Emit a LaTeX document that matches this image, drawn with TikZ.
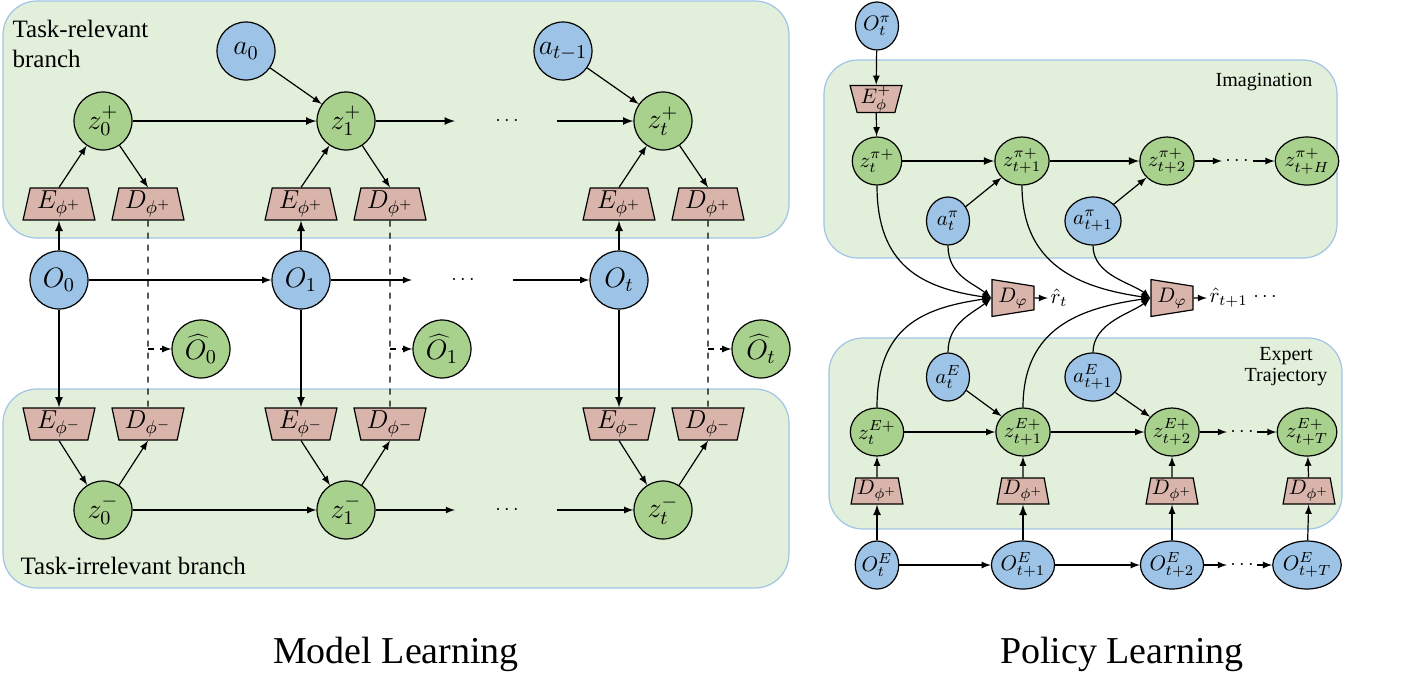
\documentclass[tikz,border=0pt]{standalone}
\usepackage{fix-cm}
\usepackage{fontspec}
\setmainfont{Liberation Serif}
\usepackage{tikz}
\usetikzlibrary{arrows,shapes.geometric}

\definecolor{boxgreen}{RGB}{226,239,218}
\definecolor{boxline}{RGB}{160,196,230}
\definecolor{nodeblue}{RGB}{157,195,230}
\definecolor{nodegreen}{RGB}{169,209,142}
\definecolor{nodepink}{RGB}{216,180,170}

\begin{document}
\begin{tikzpicture}[x=0.5pt,y=-0.5pt,line width=0.6pt,
		bnode/.style={circle,draw,fill=nodeblue,minimum size=29pt,inner sep=0pt,font=\fontsize{14}{16}\selectfont},
		gnode/.style={bnode,fill=nodegreen},
		bsmall/.style={ellipse,draw,fill=nodeblue,minimum width=21.5pt,minimum height=24pt,inner sep=0pt,font=\fontsize{10.5}{12}\selectfont},
		gsmall/.style={bsmall,fill=nodegreen},
		encup/.style={trapezium,trapezium stretches=true,draw,fill=nodepink,trapezium left angle=78,trapezium right angle=78,minimum width=36pt,minimum height=16pt,inner sep=0pt,font=\fontsize{13}{15}\selectfont},
		encdown/.style={encup,shape border rotate=180},
		smallup/.style={encup,minimum width=26pt,minimum height=13pt,font=\fontsize{10.5}{12}\selectfont},
		smalldown/.style={smallup,shape border rotate=180},
		rewdec/.style={encup,shape border rotate=270,trapezium left angle=79,trapezium right angle=79,minimum width=18.5pt,minimum height=21pt,font=\fontsize{10.5}{12}\selectfont},
		dots/.style={inner sep=0pt,font=\fontsize{10}{12}\selectfont}]
		\useasboundingbox (0,0) rectangle (1424,681);
%		\draw[help lines,step=50] (0,0) grid (1424,681);
		% branch boxes
		\draw[boxline,fill=boxgreen,rounded corners=17pt] (3,1) rectangle (789,238);
		\draw[boxline,fill=boxgreen,rounded corners=17pt] (3,389) rectangle (789,588);
		\draw[boxline,fill=boxgreen,rounded corners=17pt] (824,60) rectangle (1337,258);
		\draw[boxline,fill=boxgreen,rounded corners=17pt] (829,338) rectangle (1342,529);

		\path (12,20) node(rel_label) [anchor=north west,inner sep=0pt,align=left,font=\fontsize{12.5}{15}\selectfont] {Task-relevant\\branch};
		\path (20,566) node(irr_label) [anchor=west,inner sep=0pt,font=\fontsize{12.5}{15}\selectfont] {Task-irrelevant branch};
		\path (1264,82) node(imag_label) [font=\fontsize{10}{12}\selectfont] {Imagination};
		\path (1286,367) node(exp_label) [align=center,font=\fontsize{10}{10.5}\selectfont] {Expert\\Trajectory};
		\path (396,663) node(model_title) [anchor=base,font=\fontsize{19}{22}\selectfont] {Model Learning};
		\path (1122,663) node(policy_title) [anchor=base,font=\fontsize{19}{22}\selectfont] {Policy Learning};

		% model learning
		\path (246,51) node(a0) [bnode] {$a_0$};
		\path (563,51) node(at1) [bnode] {$a_{t-1}$};
		\path (103,121) node(zp0) [gnode] {$z_0^+$};
		\path (346,121) node(zp1) [gnode] {$z_1^+$};
		\path (663,121) node(zpt) [gnode] {$z_t^+$};
		\path (59,204) node(Ep0) [encup] {$E_{\phi^+}$};
		\path (148,204) node(Dp0) [encup] {$D_{\phi^+}$};
		\path (301,204) node(Ep1) [encup] {$E_{\phi^+}$};
		\path (390,204) node(Dp1) [encup] {$D_{\phi^+}$};
		\path (619,204) node(Ept) [encup] {$E_{\phi^+}$};
		\path (708,204) node(Dpt) [encup] {$D_{\phi^+}$};
		\path (59,280) node(o0) [bnode] {$O_0$};
		\path (301,280) node(o1) [bnode] {$O_1$};
		\path (619,280) node(ot) [bnode] {$O_t$};
		\path (201,349) node(oh0) [gnode] {$\widehat{O}_0$};
		\path (442,349) node(oh1) [gnode] {$\widehat{O}_1$};
		\path (761,349) node(oht) [gnode] {$\widehat{O}_t$};
		\path (59,424) node(Em0) [encdown] {$E_{\phi^-}$};
		\path (148,424) node(Dm0) [encdown] {$D_{\phi^-}$};
		\path (301,424) node(Em1) [encdown] {$E_{\phi^-}$};
		\path (390,424) node(Dm1) [encdown] {$D_{\phi^-}$};
		\path (619,424) node(Emt) [encdown] {$E_{\phi^-}$};
		\path (708,424) node(Dmt) [encdown] {$D_{\phi^-}$};
		\path (103,510) node(zm0) [gnode] {$z_0^-$};
		\path (346,510) node(zm1) [gnode] {$z_1^-$};
		\path (663,510) node(zmt) [gnode] {$z_t^-$};
		\path (455,121) coordinate (top_end);
		\path (507,121) node(top_dots) [dots] {$\cdots$};
		\path (557,121) coordinate (top_start);
		\path (412,280) coordinate (mid_end);
		\path (463,280) node(mid_dots) [dots] {$\cdots$};
		\path (513,280) coordinate (mid_start);
		\path (455,510) coordinate (bot_end);
		\path (507,510) node(bot_dots) [dots] {$\cdots$};
		\path (557,510) coordinate (bot_start);
		\path (148,349) coordinate (dj0);
		\path (390,349) coordinate (dj1);
		\path (708,349) coordinate (djt);

		\draw[thick,-latex] (zp0) -- (zp1);
		\draw[thick,-latex] (zp1) -- (top_end);
		\draw[thick,-latex] (top_start) -- (zpt);
		\draw[-latex] (a0) -- (zp1);
		\draw[-latex] (at1) -- (zpt);
		\draw[-latex] (Ep0.north) -- (zp0);
		\draw[-latex] (Ep1.north) -- (zp1);
		\draw[-latex] (Ept.north) -- (zpt);
		\draw[-latex] (zp0) -- (Dp0.north);
		\draw[-latex] (zp1) -- (Dp1.north);
		\draw[-latex] (zpt) -- (Dpt.north);
		\draw[thick,-latex] (o0) -- (Ep0);
		\draw[thick,-latex] (o1) -- (Ep1);
		\draw[thick,-latex] (ot) -- (Ept);
		\draw[-latex] (o0) -- (o1);
		\draw[-latex] (o1) -- (mid_end);
		\draw[-latex] (mid_start) -- (ot);
		\draw[thick,-latex] (o0) -- (Em0);
		\draw[thick,-latex] (o1) -- (Em1);
		\draw[thick,-latex] (ot) -- (Emt);
		\draw[-latex] (Em0.south) -- (zm0);
		\draw[-latex] (Em1.south) -- (zm1);
		\draw[-latex] (Emt.south) -- (zmt);
		\draw[-latex] (zm0) -- (Dm0.south);
		\draw[-latex] (zm1) -- (Dm1.south);
		\draw[-latex] (zmt) -- (Dmt.south);
		\draw[-latex] (zm0) -- (zm1);
		\draw[-latex] (zm1) -- (bot_end);
		\draw[-latex] (bot_start) -- (zmt);
		\draw[dashed] (Dp0.south) -- (Dm0.north);
		\draw[dashed] (Dp1.south) -- (Dm1.north);
		\draw[dashed] (Dpt.south) -- (Dmt.north);
		\draw[dashed,-latex] (dj0) -- (oh0);
		\draw[dashed,-latex] (dj1) -- (oh1);
		\draw[dashed,-latex] (djt) -- (oht);

		% policy learning
		\path (877,26) node(opi) [bsmall] {$O_t^\pi$};
		\path (876,99) node(Epi) [smalldown] {$E_\phi^+$};
		\path (877,161) node(zpi0) [gsmall] {$z_t^{\pi+}$};
		\path (1022,161) node(zpi1) [gsmall] {$z_{t+1}^{\pi+}$};
		\path (1167,161) node(zpi2) [gsmall] {$z_{t+2}^{\pi+}$};
		\path (1307,161) node(zpiH) [gsmall] {$z_{t+H}^{\pi+}$};
		\path (948,221) node(api0) [bsmall] {$a_t^\pi$};
		\path (1093,221) node(api1) [bsmall] {$a_{t+1}^\pi$};
		\path (1013,298) node(Dr0) [rewdec] {$D_\varphi$};
		\path (1172,298) node(Dr1) [rewdec] {$D_\varphi$};
		\path (1048,298) node(r0) [anchor=west,inner sep=1pt,font=\fontsize{10.5}{12}\selectfont] {$\hat{r}_t$};
		\path (1207,298) node(r1) [anchor=west,inner sep=1pt,font=\fontsize{10.5}{12}\selectfont] {$\hat{r}_{t+1}$};
		\path (1265,297) node(r_dots) [dots] {$\cdots$};
		\path (948,377) node(aE0) [bsmall] {$a_t^E$};
		\path (1093,377) node(aE1) [bsmall] {$a_{t+1}^E$};
		\path (877,432) node(zE0) [gsmall] {$z_t^{E+}$};
		\path (1023,432) node(zE1) [gsmall] {$z_{t+1}^{E+}$};
		\path (1172,432) node(zE2) [gsmall] {$z_{t+2}^{E+}$};
		\path (1307,432) node(zET) [gsmall] {$z_{t+T}^{E+}$};
		\path (877,491) node(DE0) [smallup] {$D_{\phi^+}$};
		\path (1023,491) node(DE1) [smallup] {$D_{\phi^+}$};
		\path (1172,491) node(DE2) [smallup] {$D_{\phi^+}$};
		\path (1309,491) node(DET) [smallup] {$D_{\phi^+}$};
		\path (877,565) node(oE0) [bsmall] {$O_t^E$};
		\path (1023,565) node(oE1) [bsmall] {$O_{t+1}^E$};
		\path (1172,565) node(oE2) [bsmall] {$O_{t+2}^E$};
		\path (1307,565) node(oET) [bsmall] {$O_{t+T}^E$};
		\path (1222,161) coordinate (imag_end);
		\path (1237,161) node(imag_dots) [dots] {$\cdots$};
		\path (1253,161) coordinate (imag_start);
		\path (1227,432) coordinate (zE_end);
		\path (1242,432) node(zE_dots) [dots] {$\cdots$};
		\path (1257,432) coordinate (zE_start);
		\path (1227,565) coordinate (oE_end);
		\path (1242,565) node(oE_dots) [dots] {$\cdots$};
		\path (1257,565) coordinate (oE_start);

		\draw[-latex] (opi) -- (Epi);
		\draw[-latex] (Epi) -- (zpi0);
		\draw[thick,-latex] (zpi0) -- (zpi1);
		\draw[thick,-latex] (zpi1) -- (zpi2);
		\draw[-latex] (zpi2) -- (imag_end);
		\draw[-latex] (imag_start) -- (zpiH);
		\draw[-latex] (api0) -- (zpi1);
		\draw[-latex] (api1) -- (zpi2);
		\draw[-latex] (Dr0) -- (r0);
		\draw[-latex] (Dr1) -- (r1);
		\draw[-latex] (zpi0.south) .. controls +(0,80) and +(-70,-10) .. (Dr0.west);
		\draw[-latex] (api0.south) .. controls +(0,30) and +(-18,-15) .. (Dr0.west);
		\draw[-latex] (zE0.north) .. controls +(0,-80) and +(-70,10) .. (Dr0.west);
		\draw[-latex] (aE0.north) .. controls +(0,-30) and +(-18,15) .. (Dr0.west);
		\draw[-latex] (zpi1.south) .. controls +(0,80) and +(-70,-10) .. (Dr1.west);
		\draw[-latex] (api1.south) .. controls +(0,30) and +(-18,-15) .. (Dr1.west);
		\draw[-latex] (zE1.north) .. controls +(0,-80) and +(-70,10) .. (Dr1.west);
		\draw[-latex] (aE1.north) .. controls +(0,-30) and +(-18,15) .. (Dr1.west);
		\draw[-latex] (zE0) -- (zE1);
		\draw[-latex] (zE1) -- (zE2);
		\draw[-latex] (zE2) -- (zE_end);
		\draw[-latex] (zE_start) -- (zET);
		\draw[-latex] (aE0) -- (zE1);
		\draw[-latex] (aE1) -- (zE2);
		\draw[-latex] (DE0) -- (zE0);
		\draw[-latex] (DE1) -- (zE1);
		\draw[-latex] (DE2) -- (zE2);
		\draw[-latex] (DET) -- (zET);
		\draw[thick,-latex] (oE0) -- (DE0);
		\draw[thick,-latex] (oE1) -- (DE1);
		\draw[-latex] (oE2) -- (DE2);
		\draw[-latex] (oET) -- (DET);
		\draw[-latex] (oE0) -- (oE1);
		\draw[-latex] (oE1) -- (oE2);
		\draw[-latex] (oE2) -- (oE_end);
		\draw[-latex] (oE_start) -- (oET);
	\end{tikzpicture}
\end{document}
